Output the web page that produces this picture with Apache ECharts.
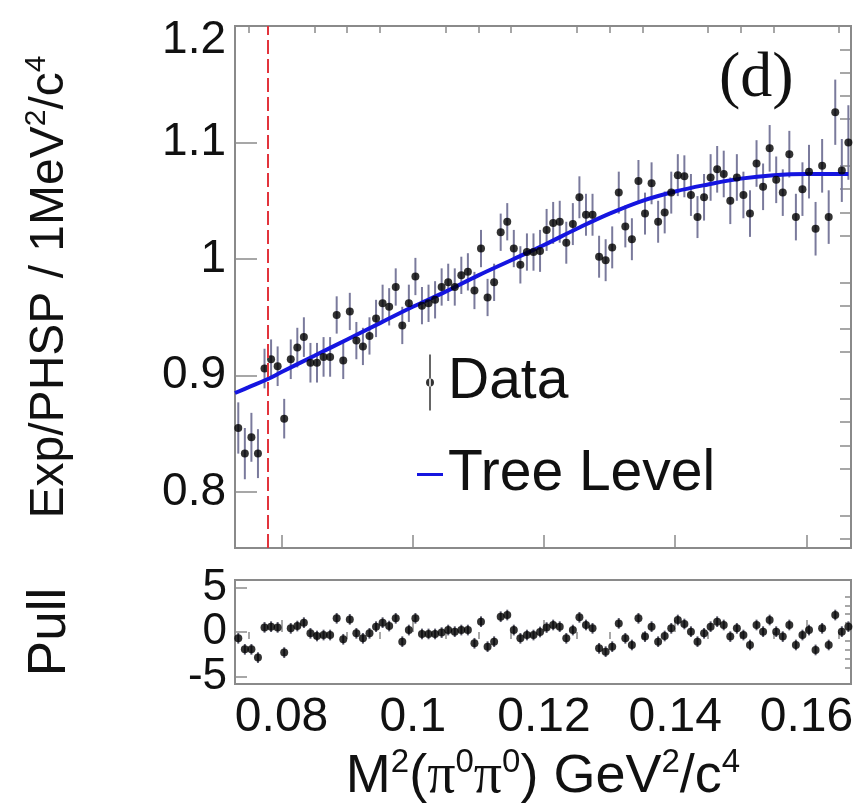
<!DOCTYPE html>
<html>
<head>
<meta charset="utf-8">
<script src="https://cdn.jsdelivr.net/npm/echarts@6/dist/echarts.min.js"></script>
<style>
  html, body { margin: 0; padding: 0; background: #fff; }
  #chart { width: 859px; height: 811px; }
</style>
</head>
<body>
<div id="chart"></div>
<script>
// Bin centres of M^2(pi0 pi0) [GeV^2/c^4], 1 MeV^2/c^4 bins
const binCenters = [
  0.0734, 0.0744, 0.0754, 0.0764, 0.0774, 0.0784, 0.0794, 0.0804, 0.0814, 0.0824,
  0.0834, 0.0844, 0.0854, 0.0864, 0.0874, 0.0884, 0.0894, 0.0904, 0.0914, 0.0924,
  0.0934, 0.0944, 0.0954, 0.0964, 0.0974, 0.0984, 0.0994, 0.1004, 0.1014, 0.1024,
  0.1034, 0.1044, 0.1054, 0.1064, 0.1074, 0.1084, 0.1094, 0.1104, 0.1114, 0.1124,
  0.1134, 0.1144, 0.1154, 0.1164, 0.1174, 0.1184, 0.1194, 0.1204, 0.1214, 0.1224,
  0.1234, 0.1244, 0.1254, 0.1264, 0.1274, 0.1284, 0.1294, 0.1304, 0.1314, 0.1324,
  0.1334, 0.1344, 0.1354, 0.1364, 0.1374, 0.1384, 0.1394, 0.1404, 0.1414, 0.1424,
  0.1434, 0.1444, 0.1454, 0.1464, 0.1474, 0.1484, 0.1494, 0.1504, 0.1514, 0.1524,
  0.1534, 0.1544, 0.1554, 0.1564, 0.1574, 0.1584, 0.1594, 0.1604, 0.1614, 0.1624,
  0.1634, 0.1644, 0.1654, 0.1664
];

// Exp/PHSP ratio per bin
const ratio = [
  0.855, 0.833, 0.847, 0.833, 0.906, 0.914, 0.908, 0.863, 0.914, 0.924,
  0.933, 0.911, 0.911, 0.916, 0.916, 0.952, 0.913, 0.955, 0.930, 0.925,
  0.934, 0.949, 0.962, 0.959, 0.976, 0.943, 0.962, 0.985, 0.960, 0.962,
  0.965, 0.976, 0.980, 0.976, 0.986, 0.989, 0.973, 1.009, 0.967, 0.980,
  1.023, 1.032, 1.009, 0.995, 1.006, 1.006, 1.007, 1.025, 1.031, 1.032,
  1.014, 1.030, 1.053, 1.038, 1.038, 1.002, 0.999, 1.010, 1.057, 1.028,
  1.017, 1.067, 1.039, 1.065, 1.032, 1.040, 1.057, 1.072, 1.071, 1.055,
  1.036, 1.053, 1.070, 1.077, 1.073, 1.050, 1.070, 1.055, 1.039, 1.082,
  1.062, 1.095, 1.068, 1.057, 1.090, 1.036, 1.060, 1.075, 1.026, 1.080,
  1.036, 1.126, 1.076, 1.100
];

// Statistical uncertainty of the ratio
const ratioErr = [
  0.022, 0.022, 0.021, 0.021, 0.017, 0.017, 0.017, 0.017, 0.017, 0.017,
  0.017, 0.017, 0.017, 0.017, 0.017, 0.016, 0.016, 0.016, 0.016, 0.016,
  0.016, 0.016, 0.016, 0.016, 0.016, 0.016, 0.016, 0.016, 0.016, 0.016,
  0.016, 0.016, 0.016, 0.016, 0.016, 0.016, 0.016, 0.016, 0.016, 0.016,
  0.016, 0.016, 0.016, 0.016, 0.016, 0.016, 0.018, 0.018, 0.018, 0.018,
  0.018, 0.018, 0.018, 0.018, 0.018, 0.018, 0.018, 0.018, 0.018, 0.018,
  0.018, 0.018, 0.018, 0.018, 0.018, 0.018, 0.018, 0.018, 0.018, 0.018,
  0.018, 0.020, 0.020, 0.020, 0.020, 0.020, 0.020, 0.020, 0.020, 0.020,
  0.020, 0.020, 0.020, 0.020, 0.020, 0.020, 0.023, 0.023, 0.023, 0.023,
  0.023, 0.028, 0.027, 0.032
];

// Pull of each bin with respect to the tree-level curve
const pull = [
  -0.71, -1.95, -1.95, -2.88, 0.52, 0.60, 0.52, -2.32, 0.41, 0.67,
  1.05, -0.15, -0.45, -0.34, -0.34, 1.54, -0.82, 1.42, -0.15, -0.71,
  -0.15, 0.60, 1.05, 0.67, 1.54, -1.09, 0.22, 1.54, -0.22, -0.22,
  -0.22, -0.07, 0.22, 0.04, 0.22, 0.22, -1.27, 1.16, -1.65, -1.09,
  1.72, 1.91, 0.22, -0.71, -0.34, -0.34, 0.00, 0.50, 0.79, 0.60,
  -0.71, 0.22, 1.65, 0.79, 0.41, -1.84, -2.21, -1.65, 0.97, -0.71,
  -1.46, 1.54, -0.52, 0.60, -1.09, -0.45, 0.41, 1.35, 0.90, 0.04,
  -1.09, -0.15, 0.60, 1.16, 0.79, -0.52, 0.41, -0.34, -1.46, 0.79,
  0.04, 1.35, 0.04, -0.52, 0.79, -1.46, -0.34, 0.22, -2.02, 0.41,
  -1.46, 1.91, 0.04, 0.60
];
const pullBar = 0.6;

// Tree-level amplitude curve
const fitX = [0.0729, 0.0750, 0.0779, 0.0800, 0.0850, 0.0900, 0.0950, 0.1000, 0.1050, 0.1100,
              0.1150, 0.1200, 0.1250, 0.1300, 0.1350, 0.1400, 0.1450, 0.1500, 0.1550, 0.1600, 0.1664];
const fitY = [0.885, 0.890, 0.897, 0.903, 0.917, 0.931, 0.945, 0.959, 0.972, 0.986,
              0.999, 1.012, 1.026, 1.039, 1.050, 1.058, 1.064, 1.069, 1.072, 1.073, 1.073];

// pi+ pi- threshold (2 m_pi+)^2
const threshold = 0.0779;

// Axis ranges and tick positions
const xRange = [0.0729, 0.1668];
const xMajor = [0.08, 0.10, 0.12, 0.14, 0.16];
const xMinor = [0.075, 0.085, 0.09, 0.095, 0.105, 0.11, 0.115, 0.125, 0.13, 0.135, 0.145, 0.15, 0.155, 0.165];
const yRange = [0.752, 1.2];
const yMajor = [0.8, 0.9, 1.0, 1.1, 1.2];
const yMinor = [0.76, 0.78, 0.82, 0.84, 0.86, 0.88, 0.92, 0.94, 0.96, 0.98,
                1.02, 1.04, 1.06, 1.08, 1.12, 1.14, 1.16, 1.18];
const pRange = [-5.85, 5.85];
const pMajor = [-5, 0, 5];
const pMinor = [-4, -3, -2, -1, 1, 2, 3, 4];

const SANS = '"Liberation Sans", Arial, Helvetica, sans-serif';
const SERIF = '"Liberation Serif", "Times New Roman", serif';
const FRAME = '#8a8a8a';
const INK = '#111';

function tickAxis(base, values, len, labels) {
  return Object.assign({
    type: 'value',
    axisLine: { show: false },
    splitLine: { show: false },
    axisTick: { show: values.length > 0, inside: true, length: len, customValues: values,
                lineStyle: { color: FRAME, width: 1.5 } },
    axisLabel: labels || { show: false }
  }, base);
}

const chart = echarts.init(document.getElementById('chart'), null, { renderer: 'canvas' });

const option = {
  animation: false,
  backgroundColor: '#ffffff',
  title: {
    text: '(d)', left: 714, top: 42,
    textStyle: { fontFamily: SERIF, fontSize: 64, fontWeight: 'normal', color: INK }
  },
  legend: {
    left: 412, top: 349, orient: 'vertical',
    itemWidth: 26, itemHeight: 56, itemGap: 35,
    selectedMode: false,
    textStyle: { fontFamily: SANS, fontSize: 57, color: INK },
    data: [
      { name: 'Data', icon: 'path://M3.5,0 L5,0 L5,56 L3.5,56 Z M0.25,28 A4,4 0 1,0 8.25,28 A4,4 0 1,0 0.25,28 Z' },
      { name: 'Tree Level', icon: 'path://M0,0 L26,0 L26,3 L0,3 Z' }
    ]
  },
  grid: [
    { left: 235, top: 26, width: 616, height: 522, show: true, borderColor: FRAME, borderWidth: 2, backgroundColor: 'transparent' },
    { left: 235, top: 580, width: 616, height: 104, show: true, borderColor: FRAME, borderWidth: 2, backgroundColor: 'transparent' },
    // carries the shared x tick labels and the x title under the pull panel
    { left: 235, top: 580, width: 616, height: 104, show: false }
  ],
  xAxis: [
    tickAxis({ gridIndex: 0, min: xRange[0], max: xRange[1] }, xMajor, 13),
    tickAxis({ gridIndex: 0, min: xRange[0], max: xRange[1] }, xMinor, 7),
    tickAxis({ gridIndex: 1, min: xRange[0], max: xRange[1] }, xMajor, 12),
    tickAxis({ gridIndex: 1, min: xRange[0], max: xRange[1] }, xMinor, 7),
    tickAxis({
      gridIndex: 2, min: xRange[0], max: xRange[1],
      name: '{t|M}{s|2}{t|(}{g|π}{s|0}{g|π}{s|0}{t|) GeV}{s|2}{t|/c}{s|4}',
      nameLocation: 'middle', nameGap: 62,
      nameTextStyle: {
        rich: {
          t: { fontFamily: SANS, fontSize: 54, color: INK, lineHeight: 62 },
          g: { fontFamily: SERIF, fontSize: 56, color: INK, lineHeight: 62 },
          s: { fontFamily: SANS, fontSize: 33, color: INK, verticalAlign: 'top' }
        }
      }
    }, [], 0, {
      show: true, customValues: xMajor, margin: 10,
      fontFamily: SANS, fontSize: 48, color: INK
    })
  ],
  yAxis: [
    tickAxis({
      gridIndex: 0, min: yRange[0], max: yRange[1],
      name: '{t|Exp/PHSP / 1MeV}{s|2}{t|/c}{s|4}',
      nameLocation: 'middle', nameGap: 158,
      nameTextStyle: {
        rich: {
          t: { fontFamily: SANS, fontSize: 48, color: INK, lineHeight: 55 },
          s: { fontFamily: SANS, fontSize: 30, color: INK, verticalAlign: 'top' }
        }
      }
    }, yMajor, 22, {
      show: true, customValues: yMajor, margin: 9,
      fontFamily: SANS, fontSize: 46, color: INK,
      formatter: function (v) { return v === 1.2 ? '{top|1.2}' : String(v); },
      rich: { top: { fontFamily: SANS, fontSize: 46, color: INK, padding: [28, 0, 0, 0] } }
    }),
    tickAxis({ gridIndex: 0, min: yRange[0], max: yRange[1] }, yMinor, 11),
    tickAxis({
      gridIndex: 1, min: pRange[0], max: pRange[1],
      name: 'Pull', nameLocation: 'middle', nameGap: 155,
      nameTextStyle: { fontFamily: SANS, fontSize: 53, color: INK, lineHeight: 60 }
    }, pMajor, 12, {
      show: true, customValues: pMajor, margin: 8,
      fontFamily: SANS, fontSize: 44, color: INK
    }),
    tickAxis({ gridIndex: 1, min: pRange[0], max: pRange[1] }, pMinor, 6),
    { type: 'value', gridIndex: 2, min: pRange[0], max: pRange[1], show: false }
  ],
  series: [
    {
      type: 'custom', name: 'ratioErr', xAxisIndex: 0, yAxisIndex: 0, z: 2,
      data: binCenters.map((x, i) => [x, ratio[i] - ratioErr[i], ratio[i] + ratioErr[i]]),
      encode: { x: 0, y: [1, 2] },
      renderItem: function (params, api) {
        const lo = api.coord([api.value(0), api.value(1)]);
        const hi = api.coord([api.value(0), api.value(2)]);
        return { type: 'line', shape: { x1: lo[0], y1: lo[1], x2: hi[0], y2: hi[1] },
                 style: { stroke: '#7a7a9c', lineWidth: 2 } };
      }
    },
    {
      type: 'line', name: 'Tree Level', xAxisIndex: 0, yAxisIndex: 0, z: 3,
      data: fitX.map((x, i) => [x, fitY[i]]),
      smooth: 0.4, showSymbol: false, symbol: 'none',
      lineStyle: { color: '#1515e0', width: 4 },
      itemStyle: { color: '#1515e0' },
      markLine: {
        silent: true, symbol: 'none', precision: 5, label: { show: false },
        lineStyle: { color: '#e2343c', type: [14, 5], width: 2 },
        data: [{ xAxis: threshold }]
      }
    },
    {
      type: 'scatter', name: 'Data', xAxisIndex: 0, yAxisIndex: 0, z: 4,
      data: binCenters.map((x, i) => [x, ratio[i]]),
      symbol: 'circle', symbolSize: 8,
      itemStyle: { color: '#000' }
    },
    {
      type: 'custom', name: 'pullErr', xAxisIndex: 2, yAxisIndex: 2, z: 2,
      data: binCenters.map((x, i) => [x, pull[i] - pullBar, pull[i] + pullBar]),
      encode: { x: 0, y: [1, 2] },
      renderItem: function (params, api) {
        const lo = api.coord([api.value(0), api.value(1)]);
        const hi = api.coord([api.value(0), api.value(2)]);
        return { type: 'line', shape: { x1: lo[0], y1: lo[1], x2: hi[0], y2: hi[1] },
                 style: { stroke: '#555566', lineWidth: 2 } };
      }
    },
    {
      type: 'scatter', name: 'Pull', xAxisIndex: 2, yAxisIndex: 2, z: 4,
      data: binCenters.map((x, i) => [x, pull[i]]),
      symbol: 'circle', symbolSize: 8,
      itemStyle: { color: '#000' }
    }
  ]
};

chart.setOption(option);
</script>
</body>
</html>
